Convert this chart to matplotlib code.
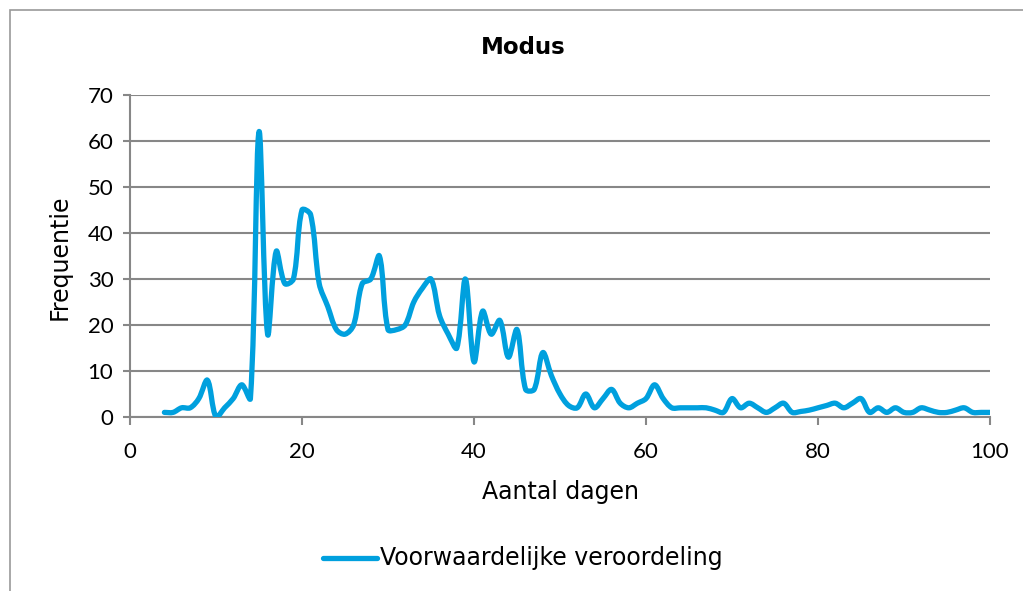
import numpy as np
import matplotlib.pyplot as plt
from matplotlib.path import Path
from matplotlib.patches import PathPatch, Rectangle
from matplotlib.lines import Line2D

# dagen en frequentie
dagen = list(range(4, 101))
frequentie = [1, 1, 2, 2, 4, 8, 0, 2, 4, 7, 4, 62, 18, 36, 29, 30, 45, 44, 29, 24,
              19, 18, 20, 29, 30, 35, 19, 19, 20, 25, 28, 30, 22, 18, 15, 30, 12, 23, 18, 21,
              13, 19, 6, 6, 14, 9, 5, 2.5, 2, 5, 2, 4, 6, 3, 2, 3, 4, 7, 4, 2,
              2, 2, 2, 2, 1.5, 1, 4, 2, 3, 2, 1, 2, 3, 1, 1.2, 1.5, 2, 2.5, 3, 2,
              3, 4, 1, 2, 1, 2, 1, 1, 2, 1.5, 1, 1, 1.5, 2, 1, 1, 1]

kleur = '#00A0DE'
grijs = '#878787'
tekst = 'DejaVu Sans'
cijfers = 'Lato'

fig = plt.figure(figsize=(10.23, 5.91), dpi=100)
W, H = 1023, 591
ax = fig.add_axes([130 / W, 1 - 417 / H, 860 / W, 322 / H])
ax.set_xlim(0, 100)
ax.set_ylim(0, 70)

# vloeiende lijn zoals in Excel: bezier, handvatten geschaald op segmentlengte (in pixels)
x = np.array(dagen, dtype=float)
y = np.array(frequentie, dtype=float)
px = np.column_stack([x * 8.6, y * 4.6])
n = len(x)
def afstand(a, b):
    return np.hypot(*(px[b] - px[a]))
verts = [(x[0], y[0])]
codes = [Path.MOVETO]
pts = np.column_stack([x, y])
for i in range(n - 1):
    a, b, c, d = max(i - 1, 0), i, i + 1, min(i + 2, n - 1)
    d01, d12, d23 = afstand(a, b), afstand(b, c), afstand(c, d)
    f1 = d12 / (d01 + d12) / 3 if d01 + d12 > 0 else 0
    f2 = d12 / (d12 + d23) / 3 if d12 + d23 > 0 else 0
    c1 = pts[b] + (pts[c] - pts[a]) * f1
    c2 = pts[c] - (pts[d] - pts[b]) * f2
    verts += [tuple(c1), tuple(c2), tuple(pts[c])]
    codes += [Path.CURVE4] * 3
ax.add_patch(PathPatch(Path(verts, codes), facecolor='none', edgecolor=kleur,
                       lw=3.8, capstyle='round', joinstyle='round', zorder=3))

ax.set_xticks(range(0, 101, 20))
ax.set_yticks(range(0, 71, 10))
ax.yaxis.grid(True, color=grijs, lw=1.5)
ax.set_axisbelow(True)
for s in ['top', 'right']:
    ax.spines[s].set_visible(False)
for s in ['left', 'bottom']:
    ax.spines[s].set_color(grijs)
    ax.spines[s].set_linewidth(1.5)
ax.tick_params(axis='x', direction='out', length=5.8, width=1.5, color=grijs,
               labelsize=16, pad=12)
ax.tick_params(axis='y', direction='out', length=5, width=1.5, color=grijs,
               labelsize=16, pad=7)
for lab in ax.get_xticklabels() + ax.get_yticklabels():
    lab.set_family(cijfers)

fig.text(561 / W, 1 - 492 / H, 'Aantal dagen', fontsize=17, family=tekst,
         ha='center', va='center')
fig.text(60 / W, 1 - 257 / H, 'Frequentie', fontsize=17, family=tekst,
         rotation=90, ha='center', va='center')
fig.text(523 / W, 1 - 47 / H, 'Modus', fontsize=16.5, fontweight='bold',
         family=tekst, ha='center', va='center')

# legenda
fig.add_artist(Line2D([323 / W, 377 / W], [1 - 558 / H, 1 - 558 / H],
                      color=kleur, lw=3.8, solid_capstyle='round'))
fig.text(380 / W, 1 - 558 / H, 'Voorwaardelijke veroordeling', fontsize=17,
         family=tekst, ha='left', va='center')

# rand van het grafiekgebied
fig.add_artist(Rectangle((10 / W, -0.1), 1.2, 1 - 10 / H + 0.1,
                         transform=fig.transFigure, fill=False,
                         edgecolor='#999999', lw=1.2))

fig.savefig('out.png', dpi=100)
